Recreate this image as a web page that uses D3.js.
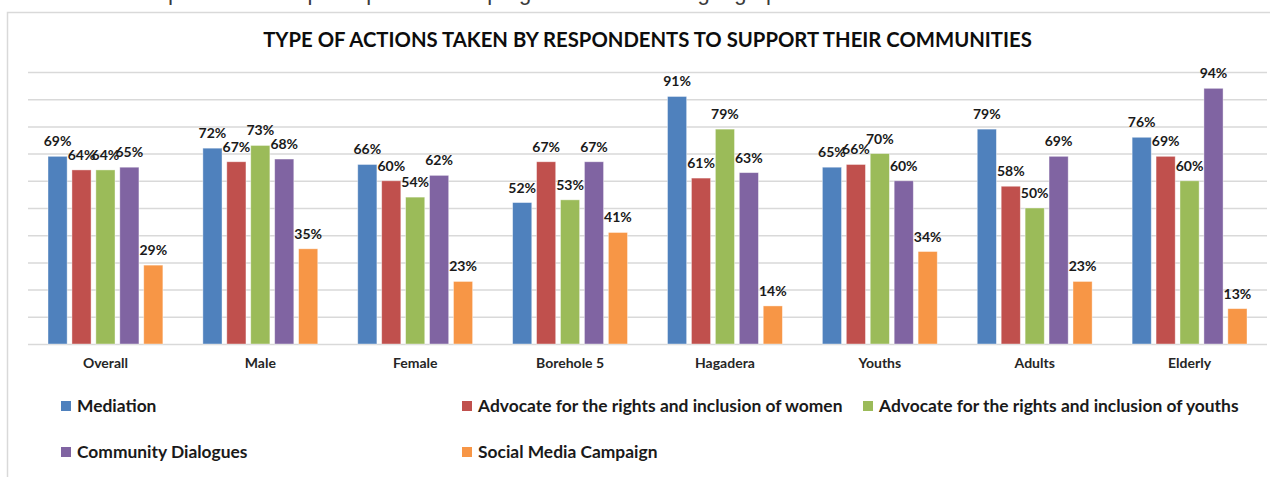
<!DOCTYPE html>
<html>
<head>
<meta charset="utf-8">
<script src="https://cdn.jsdelivr.net/npm/d3@7"></script>
<style>
  html, body { margin: 0; padding: 0; background: #ffffff; }
  svg { display: block; }
  text { font-family: Lato, "Open Sans", sans-serif; }
</style>
</head>
<body>
<svg id="chart" width="1270" height="477"></svg>
<script>
// Survey results: share of respondents taking each action, by group
const categories = ["Overall", "Male", "Female", "Borehole 5", "Hagadera", "Youths", "Adults", "Elderly"];
const seriesNames = [
  "Mediation",
  "Advocate for the rights and inclusion of women",
  "Advocate for the rights and inclusion of youths",
  "Community Dialogues",
  "Social Media Campaign"
];
const mediation      = [0.69, 0.72, 0.66, 0.52, 0.91, 0.65, 0.79, 0.76];
const advocateWomen  = [0.64, 0.67, 0.60, 0.67, 0.61, 0.66, 0.58, 0.69];
const advocateYouths = [0.64, 0.73, 0.54, 0.53, 0.79, 0.70, 0.50, 0.60];
const dialogues      = [0.65, 0.68, 0.62, 0.67, 0.63, 0.60, 0.69, 0.94];
const socialMedia    = [0.29, 0.35, 0.23, 0.41, 0.14, 0.34, 0.23, 0.13];
const seriesValues = [mediation, advocateWomen, advocateYouths, dialogues, socialMedia];
const gridTicks = [0, 0.1, 0.2, 0.3, 0.4, 0.5, 0.6, 0.7, 0.8, 0.9, 1.0];
const titleText = "TYPE OF ACTIONS TAKEN BY RESPONDENTS TO SUPPORT THEIR COMMUNITIES";
const bodyLineText = "• the equal access of participants to the programs in all these geographies";

const colors = ["#4f81bd", "#c0504d", "#9bbb59", "#8064a2", "#f79646"];

const svg = d3.select("#chart");

// line of document text running above the chart frame
svg.append("text")
  .attr("x", 98).attr("y", 0)
  .style("font-family", "'Liberation Sans', Arial, sans-serif")
  .style("font-size", "22px")
  .attr("fill", "#3a3a3a")
  .text(bodyLineText);

// chart frame
svg.append("rect")
  .attr("x", 7.5).attr("y", 12.5)
  .attr("width", 1300).attr("height", 500)
  .attr("fill", "#ffffff")
  .attr("stroke", "#d9d9d9").attr("stroke-width", 1.5);

const plot = { left: 28, right: 1267, top: 72, bottom: 344 };

const x0 = d3.scaleBand().domain(categories).range([plot.left, plot.right]).padding(0);
const x1 = d3.scaleBand().domain(d3.range(seriesNames.length))
  .range([20, x0.bandwidth() - 20]).paddingInner(0.2).paddingOuter(0);
const y = d3.scaleLinear().domain([0, 1]).range([plot.bottom, plot.top]);

// title
svg.append("text")
  .attr("x", (plot.left + plot.right) / 2).attr("y", 47)
  .attr("text-anchor", "middle")
  .style("font-size", "20.3px").style("font-weight", "700")
  .attr("fill", "#0d0d0d")
  .text(titleText);

// horizontal gridlines
svg.append("g")
  .attr("transform", `translate(${plot.left},0)`)
  .call(d3.axisLeft(y).tickValues(gridTicks).tickSize(-(plot.right - plot.left)).tickFormat(""))
  .call(g => g.select(".domain").remove())
  .call(g => g.selectAll(".tick line").attr("stroke", "#d9d9d9").attr("stroke-width", 1.5));

// bars
const groups = svg.append("g").selectAll("g")
  .data(categories)
  .join("g")
  .attr("transform", d => `translate(${x0(d)},0)`);

groups.selectAll("rect")
  .data((c, ci) => seriesValues.map((vals, si) => ({ si, v: vals[ci] })))
  .join("rect")
  .attr("x", d => x1(d.si))
  .attr("width", x1.bandwidth())
  .attr("y", d => y(d.v))
  .attr("height", d => y(0) - y(d.v))
  .attr("fill", d => colors[d.si])
  .attr("stroke", "#ffffff").attr("stroke-opacity", 0.5).attr("stroke-width", 0.8);

// value labels
groups.selectAll("text.value")
  .data((c, ci) => seriesValues.map((vals, si) => ({ si, v: vals[ci] })))
  .join("text")
  .attr("class", "value")
  .attr("x", d => x1(d.si) + x1.bandwidth() / 2)
  .attr("y", d => y(d.v) - 10)
  .attr("text-anchor", "middle")
  .style("font-size", "14px").style("font-weight", "700")
  .attr("fill", "#1a1a1a")
  .text(d => d3.format(".0%")(d.v));

// category labels
const xAxis = svg.append("g")
  .attr("transform", `translate(0,${plot.bottom})`)
  .call(d3.axisBottom(x0).tickSize(0).tickPadding(14));
xAxis.select(".domain").remove();
xAxis.selectAll("text")
  .style("font-family", "Lato, 'Open Sans', sans-serif")
  .style("font-size", "14px").style("font-weight", "700")
  .attr("fill", "#262626");

// legend, three columns by two rows
const legendCols = [61, 462, 863];
const legendRows = [406, 452];
const legend = svg.append("g").selectAll("g")
  .data(seriesNames)
  .join("g")
  .attr("transform", (d, i) => `translate(${legendCols[i % 3]},${legendRows[Math.floor(i / 3)]})`);
legend.append("rect")
  .attr("x", 0).attr("y", -5).attr("width", 10).attr("height", 10)
  .attr("fill", (d, i) => colors[i]);
legend.append("text")
  .attr("x", 16).attr("y", 6)
  .style("font-size", "17.4px").style("font-weight", "700")
  .attr("fill", "#1a1a1a")
  .text(d => d);
</script>
</body>
</html>
